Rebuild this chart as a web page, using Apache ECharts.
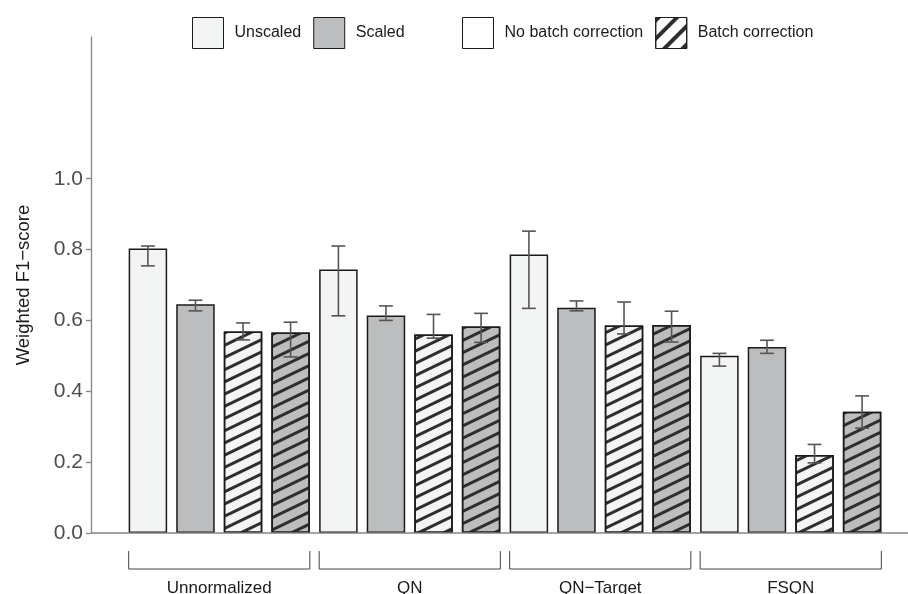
<!DOCTYPE html>
<html>
<head>
<meta charset="utf-8">
<script src="https://cdn.jsdelivr.net/npm/echarts@6/dist/echarts.min.js"></script>
<style>html,body{margin:0;padding:0;background:#fff;}#c{width:908px;height:594px;}</style>
</head>
<body>
<div id="c"></div>
<script>
// ---- data ----
const groups = ['Unnormalized', 'QN', 'QN\u2212Target', 'FSQN'];
const unscaledNoBC = [0.803, 0.744, 0.786, 0.500];
const scaledNoBC   = [0.646, 0.614, 0.636, 0.525];
const unscaledBC   = [0.569, 0.560, 0.586, 0.220];
const scaledBC     = [0.566, 0.583, 0.587, 0.342];
const unscaledNoBCLow  = [0.754, 0.613, 0.634, 0.471];
const unscaledNoBCHigh = [0.810, 0.810, 0.852, 0.507];
const scaledNoBCLow    = [0.627, 0.600, 0.627, 0.507];
const scaledNoBCHigh   = [0.657, 0.641, 0.655, 0.544];
const unscaledBCLow    = [0.545, 0.550, 0.562, 0.198];
const unscaledBCHigh   = [0.593, 0.617, 0.652, 0.250];
const scaledBCLow      = [0.497, 0.538, 0.539, 0.296];
const scaledBCHigh     = [0.595, 0.620, 0.626, 0.387];
const yTicks = [0, 0.2, 0.4, 0.6, 0.8, 1.0];

// ---- style ----
const FONT = "'Liberation Sans', Arial, Helvetica, sans-serif";
const LIGHT = '#f3f5f4', GREY = '#bcbdbe', EDGE = '#1a1a1a';
const BAR_W = 0.202, BAR_GAP = 0.236;
const hatch = { symbol: 'rect', symbolSize: 1, color: '#2e2e2e', dashArrayX: [1, 0], dashArrayY: [3, 8], rotation: -Math.PI / 7 };

const barDefs = [
  { name: 'Unscaled', data: unscaledNoBC, lo: unscaledNoBCLow, hi: unscaledNoBCHigh, fill: LIGHT, decal: null },
  { name: 'Scaled', data: scaledNoBC, lo: scaledNoBCLow, hi: scaledNoBCHigh, fill: GREY, decal: null },
  { name: 'Unscaled (batch corrected)', data: unscaledBC, lo: unscaledBCLow, hi: unscaledBCHigh, fill: LIGHT, decal: hatch },
  { name: 'Scaled (batch corrected)', data: scaledBC, lo: scaledBCLow, hi: scaledBCHigh, fill: GREY, decal: hatch }
];

const series = [];
barDefs.forEach(function (d) {
  const st = { color: d.fill, borderColor: EDGE, borderWidth: 1.5 };
  if (d.decal) st.decal = d.decal;
  series.push({ type: 'bar', name: d.name, data: d.data, barWidth: (BAR_W * 100) + '%', barGap: (BAR_GAP * 100) + '%', itemStyle: st, emphasis: { disabled: true }, z: 2 });
});
barDefs.forEach(function (d, s) {
  series.push({
    type: 'custom', name: d.name + ' err', z: 5, silent: true, clip: false,
    data: d.lo.map(function (l, g) { return [g, l, d.hi[g]]; }),
    encode: { x: 0, y: [1, 2] },
    renderItem: function (params, api) {
      const g = api.value(0), lo = api.value(1), hi = api.value(2);
      const catW = api.size([1, 0])[0];
      const bw = catW * BAR_W, step = bw * (1 + BAR_GAP);
      const off = (s - 1.5) * step;
      const pH = api.coord([g, hi]), pL = api.coord([g, lo]);
      const x = pH[0] + off, cap = bw * 0.18;
      const ls = { stroke: '#555555', lineWidth: 1.6 };
      return { type: 'group', children: [
        { type: 'line', shape: { x1: x, y1: pH[1], x2: x, y2: pL[1] }, style: ls },
        { type: 'line', shape: { x1: x - cap, y1: pH[1], x2: x + cap, y2: pH[1] }, style: ls },
        { type: 'line', shape: { x1: x - cap, y1: pL[1], x2: x + cap, y2: pL[1] }, style: ls }
      ]};
    }
  });
});
// group brackets below the axis
series.push({
  type: 'custom', name: 'brackets', silent: true, clip: false, z: 3,
  data: groups.map(function (_, i) { return [i, 0]; }),
  encode: { x: 0, y: 1 },
  renderItem: function (params, api) {
    const p = api.coord([api.value(0), 0]);
    const catW = api.size([1, 0])[0];
    const bw = catW * BAR_W;
    const half = 2 * bw + 1.5 * bw * BAR_GAP;
    const y1 = p[1] + 18, y2 = p[1] + 36;
    return { type: 'polyline', shape: { points: [[p[0] - half, y1], [p[0] - half, y2], [p[0] + half, y2], [p[0] + half, y1]] },
      style: { stroke: '#444444', lineWidth: 1, fill: null } };
  }
});
// legend-only series (on a hidden axis so they do not take bar slots)
series.push({ type: 'bar', name: 'No batch correction', xAxisIndex: 1, data: [], itemStyle: { color: '#ffffff', borderColor: EDGE, borderWidth: 1 } });
series.push({ type: 'bar', name: 'Batch correction', xAxisIndex: 1, data: [], itemStyle: { color: '#ffffff', borderColor: EDGE, borderWidth: 1, decal: { symbol: 'rect', symbolSize: 1, color: '#2e2e2e', dashArrayX: [1, 0], dashArrayY: [4, 9], rotation: -Math.PI / 4 } } });

const legendBase = { top: 17, padding: 0, icon: 'rect', itemWidth: 31, itemHeight: 31, itemGap: 12, selectedMode: false,
  itemStyle: { borderColor: EDGE, borderWidth: 1 },
  textStyle: { fontSize: 16, color: '#1a1a1a', fontFamily: FONT, padding: [0, 0, 0, 6] } };

const chart = echarts.init(document.getElementById('c'), null, { renderer: 'canvas' });
chart.setOption({
  animation: false,
  backgroundColor: '#ffffff',
  textStyle: { fontFamily: FONT },
  grid: { left: 124, right: 22, top: 37, bottom: 61, containLabel: false, outerBoundsMode: 'none' },
  legend: [
    Object.assign({}, legendBase, { left: 192, data: ['Unscaled', 'Scaled'] }),
    Object.assign({}, legendBase, { left: 462, data: ['No batch correction', 'Batch correction'] })
  ],
  xAxis: [
    { type: 'category', data: groups, axisTick: { show: false }, axisLine: { show: false },
      axisLabel: { margin: 47, fontSize: 17, color: '#1a1a1a', fontFamily: FONT } },
    { type: 'category', data: ['x'], show: false }
  ],
  yAxis: {
    type: 'value', min: 0, max: 1.4, offset: 33,
    name: 'Weighted F1\u2212score', nameLocation: 'middle', nameGap: 58, nameRotate: 90,
    nameTextStyle: { fontSize: 18.5, color: '#1a1a1a', fontFamily: FONT },
    axisLine: { show: true, lineStyle: { color: '#858585', width: 1.3 } },
    axisTick: { show: true, length: 5, lineStyle: { color: '#858585', width: 1.3 }, customValues: yTicks },
    axisLabel: { fontSize: 21, color: '#4d4d4d', margin: 8, fontFamily: FONT, customValues: yTicks,
      formatter: function (v) { return v.toFixed(1); } },
    splitLine: { show: false }
  },
  graphic: [
    { type: 'line', z: 10, shape: { x1: 91, y1: 533, x2: 908, y2: 533 }, style: { stroke: '#858585', lineWidth: 1.3 } }
  ],
  series: series
});
</script>
</body>
</html>
